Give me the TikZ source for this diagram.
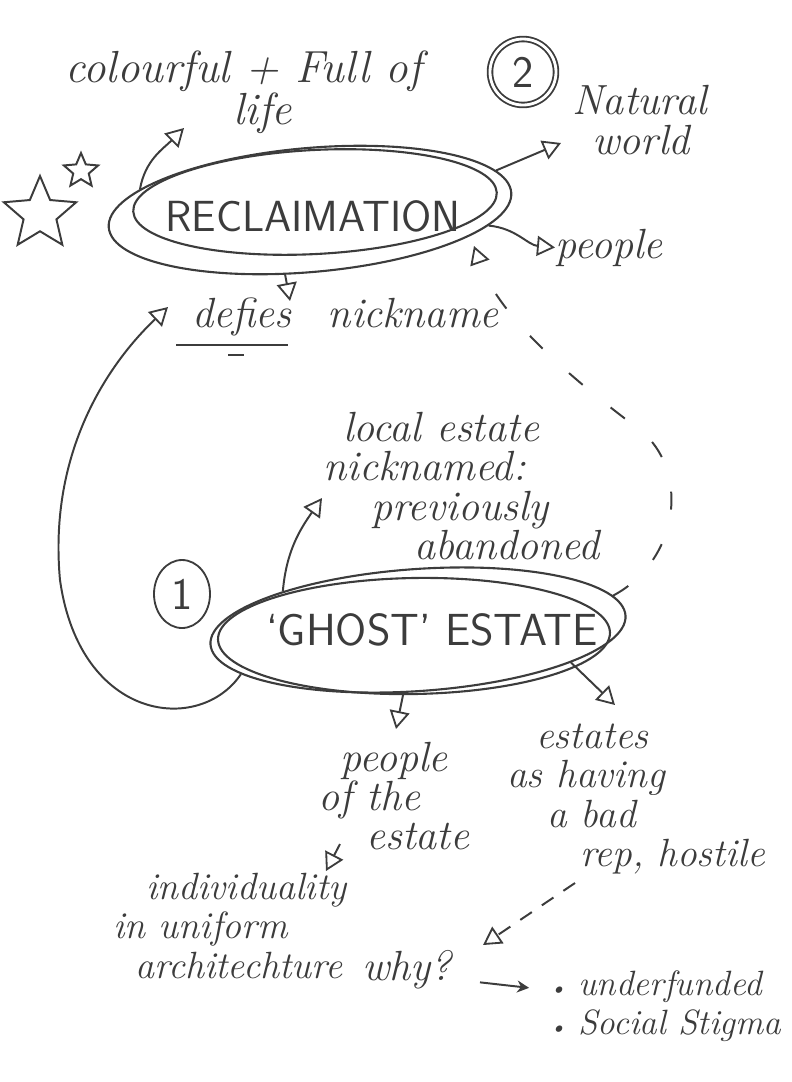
\documentclass[tikz,border=0pt]{standalone}
\usepackage{xcolor}
\usepackage{tikz}
\usetikzlibrary{arrows.meta, positioning, shapes.geometric}
\definecolor{pencil}{HTML}{3C3C3C}
\newcommand{\dotmark}{{\fontsize{16}{16}\selectfont\textbullet}}
\tikzset{
  hand/.style={align=left, font=\fontsize{#1}{28}\selectfont\itshape, text=pencil, inner sep=0pt},
  hand/.default=30,
  caps/.style={font=\fontsize{#1}{30}\selectfont\sffamily, text=pencil},
  caps/.default=31,
  bubble/.style={draw=pencil, ellipse, line width=1.5pt, inner sep=0pt},
  ring/.style={draw=pencil, line width=1.3pt, font=\fontsize{32}{32}\selectfont\sffamily, text=pencil, inner sep=0pt},
  starry/.style={draw=pencil, line width=1.4pt, star, star points=5, star point ratio=2.2, inner sep=0pt},
  flow/.style={-{Triangle[open, length=4.5mm, width=5mm, line width=1.3pt]}, draw=pencil, line width=1.4pt},
  dflow/.style={flow, dash pattern=on 4.5mm off 9mm},
  sdflow/.style={flow, dash pattern=on 3.5mm off 3mm},
  tinyflow/.style={-{Stealth[length=3mm, width=3mm]}, draw=pencil, line width=1.4pt}
}

\begin{document}
\begin{tikzpicture}[x=0.25mm, y=-0.25mm]
\useasboundingbox (0,0) rectangle (792,1082);

% (2) reclaimation
\node[bubble, minimum width=91mm, minimum height=26mm, rotate=3] (reclaim) at (315,202) {};
\node[bubble, minimum width=101mm, minimum height=31mm, rotate=5] (reclaimo) at (310,210) {};
\node[caps] (reclaimtxt) at (313,216) {RECLAIMATION};
\node[ring, circle, double, double distance=2pt, minimum size=16.5mm] (two) at (523,72) {2};
\node[starry, minimum size=19mm] (bigstar) at (40,214) {};
\node[starry, minimum size=9mm] (smallstar) at (81,171) {};

\node[hand=32, anchor=west] (colour) at (65,92) {colourful + Full of\\\hspace*{42mm}life};
\node[hand, anchor=west] (natural) at (572,120) {Natural\\\hspace*{5mm}world};
\node[hand, anchor=base west] (people) at (555,258) {people};
\node[hand, anchor=base west] (defies) at (192,327) {defies};
\node[hand, base right=9mm of defies] (nick) {nickname};
\draw[pencil, line width=1.3pt] ([shift={(-4mm,-4.5mm)}]defies.base west) -- ([shift={(-1mm,-4.5mm)}]defies.base east);
\draw[pencil, line width=1.3pt] ([shift={(9mm,-7mm)}]defies.base west) -- ++(4mm,0);

% (1) ghost estate
\node[bubble, minimum width=104mm, minimum height=30.5mm, rotate=4] (ghost) at (418,630) {};
\node[bubble, minimum width=98mm, minimum height=29mm, rotate=1] (ghostb) at (414,636) {};
\node[caps=32] (ghosttxt) at (432,630) {`GHOST' ESTATE};
\node[ring, ellipse, minimum width=14mm, minimum height=17mm] (one) at (182,594) {1};

\node[hand, anchor=west] (local) at (323,486) {\hspace*{5mm}local estate\\nicknamed:\\\hspace*{12mm}previously\\\hspace*{22.75mm}abandoned};
\node[hand, anchor=west] (ppl) at (318,796) {\hspace*{5.5mm}people\\of the\\\hspace*{12mm}estate};
\node[hand=28, anchor=west] (bad) at (507,799) {\hspace*{7.25mm}estates\\as having\\\hspace*{10mm}a bad\\\hspace*{18.25mm}rep, hostile};
\node[hand=27, anchor=west] (indiv) at (113,926) {\hspace*{8.25mm}individuality\\in uniform\\\hspace*{5.5mm}architechture};
\node[hand, anchor=base west] (why) at (362,980) {why?};
\node[hand=25, anchor=west] (causes) at (549,1006) {\dotmark\ underfunded\\\dotmark\ Social Stigma};

% arrow ends
\coordinate (lifetip) at (184,128);
\coordinate (naturaltip) at (561,143);
\coordinate (defiestip) at (290,301);
\coordinate (looptip) at (168,307);
\coordinate (dashtip) at (474,246);
\coordinate (localtip) at (322,498);
\coordinate (ppltip) at (396,729);
\coordinate (badtip) at (615,705);
\coordinate (indivtip) at (326,871);
\coordinate (whytip) at (483,945);

\draw[flow] (reclaimo.168) to[out=80, in=225] (lifetip);
\draw[flow] (reclaimo.7) -- (naturaltip);
\draw[flow] (reclaimo.-10) to[out=-5, in=175] (people.west);
\draw[flow] (reclaimo.-116) -- (defiestip);
\draw[flow] (ghost.190) .. controls (200,735) and (80,722) .. (60,580) .. controls (48,450) and (110,362) .. (looptip);
\draw[dflow] (ghost.6) .. controls (680,560) and (690,470) .. (640,430) .. controls (580,385) and (500,320) .. (dashtip);
\draw[flow] (ghost.160) to[out=85, in=235] (localtip);
\draw[flow] (ghost.253) -- (ppltip);
\draw[flow] (ghost.-16) -- (badtip);
\draw[flow] ([shift={(5.5mm,-12mm)}]ppl.west) -- (indivtip);
\draw[sdflow] ([shift={(17mm,-21mm)}]bad.west) -- (whytip);
\draw[tinyflow, shorten <=7mm, shorten >=5mm] ([yshift=-2.5mm]why.east) -- ([yshift=-5mm]causes.north west);
\end{tikzpicture}
\end{document}
